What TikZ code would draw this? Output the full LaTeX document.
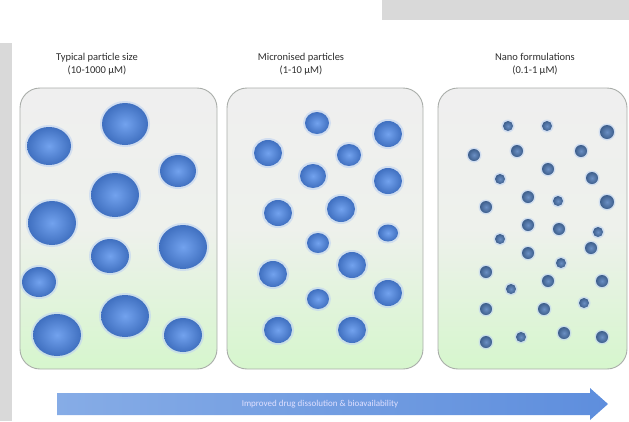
\documentclass[tikz,border=0pt]{standalone}
\usepackage{fontspec}
\setmainfont{Carlito}
\usetikzlibrary{shapes.geometric}
\definecolor{bargray}{HTML}{D9D9D9}
\definecolor{panelborder}{HTML}{A9ADA9}
\definecolor{paneltop}{HTML}{EFEFEF}
\definecolor{panelmid}{HTML}{EEF1EC}
\definecolor{panelbot}{HTML}{D6F6CD}
\definecolor{pin}{HTML}{72A2EE}
\definecolor{pout}{HTML}{4070C0}
\definecolor{glow}{HTML}{BFD3F2}
\definecolor{nin}{HTML}{6A8FC4}
\definecolor{nout}{HTML}{3E5F8C}
\definecolor{arrowl}{HTML}{86ACE6}
\definecolor{arrowr}{HTML}{5E8EDD}
\definecolor{titletext}{HTML}{2E2E2E}
\tikzset{
  panelbox/.style={draw=panelborder, line width=0.9pt, rounded corners=20pt,
    top color=paneltop, bottom color=panelbot, middle color=panelmid},
  titlenode/.style={font=\fontsize{10.5}{13}\selectfont, text=titletext, align=center},
  particle/.style={inner color=pin, outer color=pout},
  nanoparticle/.style={inner color=nin, outer color=nout},
  glowring/.style={fill=glow, opacity=0.6},
}
\begin{document}
\begin{tikzpicture}[x=1pt,y=-1pt]
\useasboundingbox (0,0) rectangle (629,421);
% gray bars
\fill[bargray] (0,43) rectangle (12,421);
\fill[bargray] (382,0) rectangle (629,20);
% titles
\node[titlenode] (t1) at (97,64) {Typical particle size\\(10-1000 µM)};
\node[titlenode] (t2) at (301,64) {Micronised particles\\(1-10 µM)};
\node[titlenode] (t3) at (535,64) {Nano formulations\\(0.1-1 µM)};
% panels
\path[panelbox] (20,88) rectangle (217,369);
\path[panelbox] (227,88) rectangle (423,369);
\path[panelbox] (438,88) rectangle (627,369);
% panel 1 particles
\foreach \x/\y/\a/\b in {49/146/22/19, 125/124/23/21, 178/171/18/16, 115/195/24/22,
  52/223/24/22, 110/256/19/17, 183/247/24/22, 39/282/17/15, 125/316/24/21,
  57/335/24/21, 183/335/19/17}{
  \fill[glowring] (\x,\y) ellipse [x radius=\a+2, y radius=\b+2];
  \shade[particle] (\x,\y) ellipse [x radius=\a, y radius=\b];
}
% panel 2 particles
\foreach \x/\y/\a/\b in {317/123/12/11, 388/134/14/13, 268/153/14/13, 349/155/12/11,
  313/176/13/12, 388/181/14/13, 278/213/14/13, 341/209/14/13, 388/233/10/8.5,
  318/243/11/10, 352/265/14/13, 273/274/14/13, 388/293/14/13, 318/299/11/10,
  278/330/14/13, 352/330/14/13}{
  \fill[glowring] (\x,\y) ellipse [x radius=\a+2, y radius=\b+2];
  \shade[particle] (\x,\y) ellipse [x radius=\a, y radius=\b];
}
% panel 3 particles
\foreach \x/\y/\r in {508/126/5, 547/126/5, 607/132/7, 474/155/6, 517/151/6, 581/151/6,
  548/169/6, 500/179/5, 592/178/6, 528/197/6, 558/201/5, 607/202/7, 486/207/6,
  528/225/6, 559/229/6, 598/232/5, 500/239/5, 528/253/6, 591/248/6, 561/263/5,
  486/272/6, 548/281/6, 602/281/6, 511/289/5, 584/303/5, 486/309/6, 544/309/6,
  486/342/6, 521/337/5, 564/333/6, 602/337/6}{
  \fill[glowring] (\x,\y) circle [radius=\r+1.5];
  \shade[nanoparticle] (\x,\y) circle [radius=\r];
}
% arrow
\shade[left color=arrowl, right color=arrowr]
  (57,393) -- (590,393) -- (590,388) -- (608,404) -- (590,420) -- (590,415) -- (57,415) -- cycle;
\node[font=\fontsize{9}{10}\selectfont, text=white!88!blue] (al) at (320,404)
  {Improved drug dissolution \& bioavailability};
\end{tikzpicture}
\end{document}
